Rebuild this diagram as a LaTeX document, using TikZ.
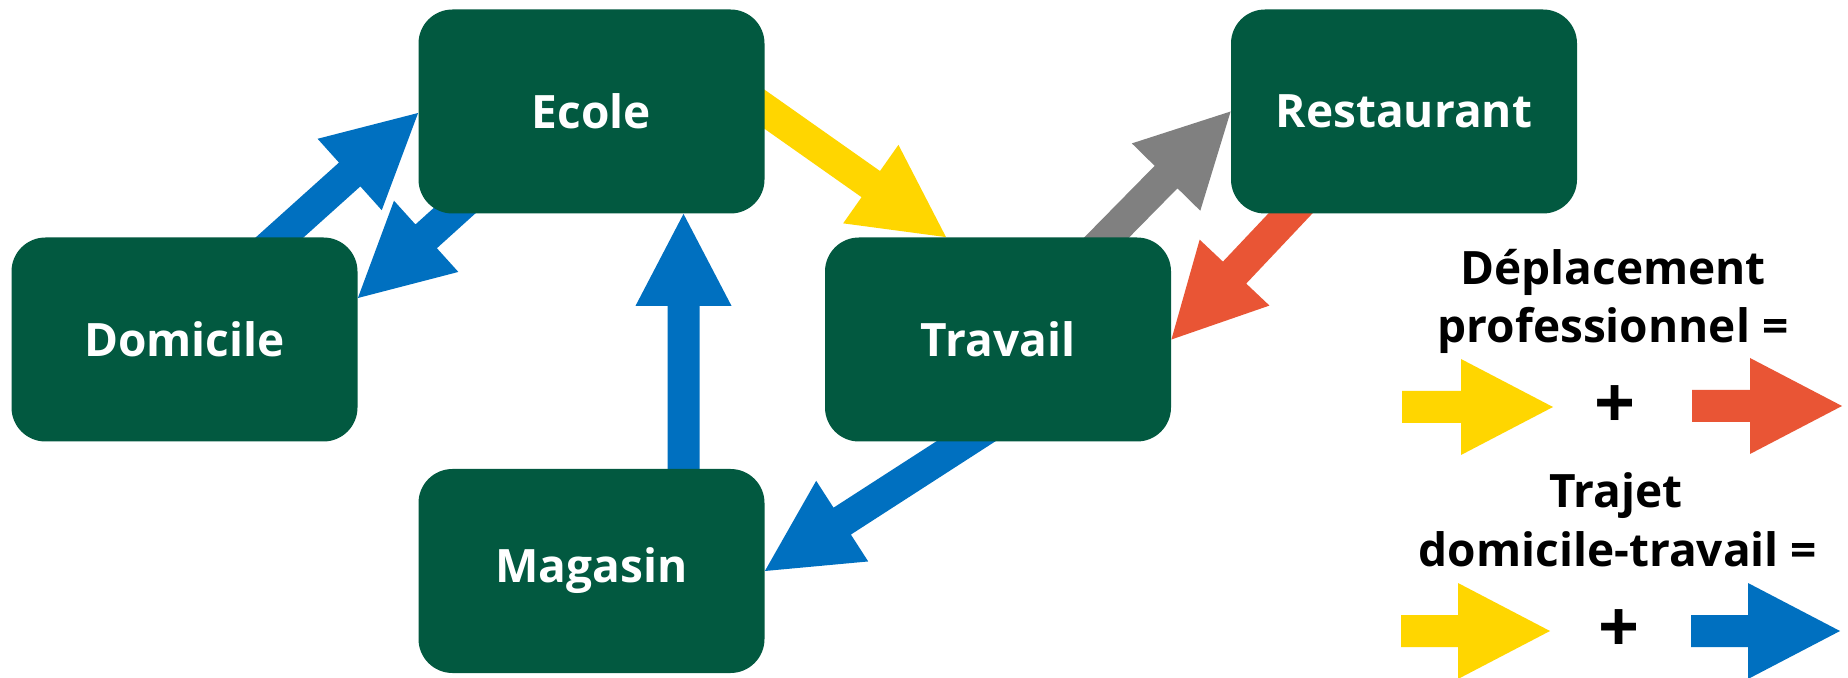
\documentclass[tikz,border=0pt]{standalone}
\usepackage{fontspec}
\setmainfont{Open Sans}
\usetikzlibrary{calc,backgrounds}
\definecolor{boxgreen}{RGB}{2,89,64}
\definecolor{arrowblue}{RGB}{0,112,192}
\definecolor{arrowyellow}{RGB}{255,214,0}
\definecolor{arrowred}{RGB}{233,85,53}
\definecolor{arrowgray}{RGB}{128,128,128}
\tikzset{
  place/.style={draw=none, fill=boxgreen, rounded corners=17pt, minimum width=173pt,
    minimum height=102pt, inner sep=0pt, text=white, font=\fontsize{23}{28}\selectfont\bfseries},
  legendtext/.style={anchor=base, inner sep=0pt, text=black, font=\fontsize{23}{28}\selectfont\bfseries},
  plussign/.style={inner sep=0pt, text=black, font=\fontsize{36}{36}\selectfont\bfseries}
}
% [#1] tail extension, #2 colour, #3 tail coordinate, #4 tip coordinate
\newcommand\fatarrow[4][20pt]{%
  \path ($(#3)!-#1!(#4)$) coordinate (fa-t);
  \path ($(#4)!46pt!(#3)$) coordinate (fa-b);
  \fill[#2] ($(fa-t)!8pt!90:(#4)$) -- ($(fa-b)!8pt!90:(#4)$) -- ($(fa-b)!24pt!90:(#4)$)
    -- (#4) -- ($(fa-b)!24pt!-90:(#4)$) -- ($(fa-b)!8pt!-90:(#4)$) -- ($(fa-t)!8pt!-90:(#4)$) -- cycle;}
\begin{document}
\begin{tikzpicture}[x=0.5pt,y=-0.5pt]
\useasboundingbox (0,0) rectangle (1848,678);
% places
\node[place] (dom) at (184.5,339.5) {Domicile};
\node[place] (ecole) at (591.5,111.5) {Ecole};
\node[place] (mag) at (591.5,571) {Magasin};
\node[place] (trav) at (998,339.5) {Travail};
\node[place] (rest) at (1404,111.5) {Restaurant};
% connectors
\begin{pgfonlayer}{background}
  \fill[white] (0,0) rectangle (1848,678);
  \coordinate (a1t) at ($(dom.north)+(95.5,0)$);
  \coordinate (a1h) at ($(ecole.west)+(0,1.5)$);
  \fatarrow{arrowblue}{a1t}{a1h}
  \coordinate (a2t) at ($(ecole.south)+(-140.5,0)$);
  \coordinate (a2h) at ($(dom.east)+(0,-41.5)$);
  \fatarrow{arrowblue}{a2t}{a2h}
  \coordinate (a3t) at ($(ecole.east)+(0,-2)$);
  \coordinate (a3h) at ($(trav.north)+(-52,0)$);
  \fatarrow{arrowyellow}{a3t}{a3h}
  \coordinate (a4t) at ($(trav.north)+(109,0)$);
  \coordinate (a4h) at (rest.west);
  \fatarrow{arrowgray}{a4t}{a4h}
  \coordinate (a5t) at ($(rest.south)+(-114,0)$);
  \coordinate (a5h) at (trav.east);
  \fatarrow{arrowred}{a5t}{a5h}
  \coordinate (a6t) at ($(mag.north)+(92,0)$);
  \coordinate (a6h) at ($(ecole.south)+(92,0)$);
  \fatarrow{arrowblue}{a6t}{a6h}
  \coordinate (a7t) at ($(trav.south)+(-33,0)$);
  \coordinate (a7h) at (mag.east);
  \fatarrow{arrowblue}{a7t}{a7h}
\end{pgfonlayer}
% legend
\node[legendtext] (l1) at (1613,285) {Déplacement};
\node[legendtext] (l2) at (1613,343) {professionnel =};
\coordinate (ly1t) at (1402,407);
\coordinate (ly1h) at (1553,407);
\fatarrow[0pt]{arrowyellow}{ly1t}{ly1h}
\node[plussign] (p1) at (1615,407) {+};
\coordinate (lr1t) at (1692,406);
\coordinate (lr1h) at (1842,406);
\fatarrow[0pt]{arrowred}{lr1t}{lr1h}
\node[legendtext] (l3) at (1616,508) {Trajet};
\node[legendtext] (l4) at (1618,567) {domicile-travail =};
\coordinate (ly2t) at (1401,631);
\coordinate (ly2h) at (1550,631);
\fatarrow[0pt]{arrowyellow}{ly2t}{ly2h}
\node[plussign] (p2) at (1619,631) {+};
\coordinate (lb2t) at (1691,631);
\coordinate (lb2h) at (1840,631);
\fatarrow[0pt]{arrowblue}{lb2t}{lb2h}
\end{tikzpicture}
\end{document}
